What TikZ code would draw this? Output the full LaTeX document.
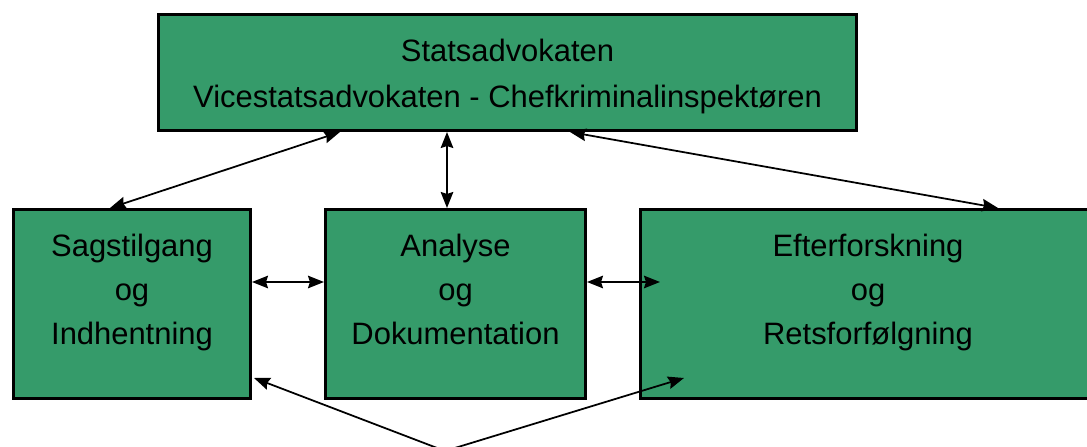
\documentclass[tikz,border=0pt]{standalone}
\usepackage{fontspec}
\setmainfont{Liberation Sans}
\usepackage{tikz}
\usetikzlibrary{arrows.meta}

\definecolor{boxgreen}{RGB}{53,155,106}

\begin{document}
\begin{tikzpicture}[>={Stealth[length=0.32cm,width=0.25cm,inset=0.04cm]}]
			\tikzstyle{unit} = [draw, fill=boxgreen, line width=1.7pt, inner sep=0pt]
			\tikzstyle{label} = [align=center, font=\fontsize{17.6}{26.2}\selectfont, inner sep=0pt]
			\tikzstyle{sublabel} = [label, font=\fontsize{17.6}{25}\selectfont]
			\tikzstyle{link} = [line width=1pt]

			\useasboundingbox (0,0) rectangle (21.74,8.92);

			% boxes
			\node[unit, minimum width=13.96cm, minimum height=2.32cm] (top) at (10.15,7.47) {};
			\node[unit, minimum width=4.74cm, minimum height=3.78cm] (sag) at (2.64,2.84) {};
			\node[unit, minimum width=5.20cm, minimum height=3.78cm] (ana) at (9.11,2.84) {};
			\node[unit, minimum width=9.10cm, minimum height=3.78cm] (eft) at (17.36,2.84) {};

			% texts
			\node[label] (toptxt) at ([yshift=-0.05cm]top.center) {Statsadvokaten\strut\\Vicestatsadvokaten - Chefkriminalinspektøren\strut};
			\node[sublabel] (sagtxt) at ([yshift=0.25cm]sag.center) {Sagstilgang\strut\\og\strut\\Indhentning\strut};
			\node[sublabel] (anatxt) at ([yshift=0.25cm]ana.center) {Analyse\strut\\og\strut\\Dokumentation\strut};
			\node[sublabel] (efttxt) at ([yshift=0.25cm]eft.center) {Efterforskning\strut\\og\strut\\Retsforfølgning\strut};

			\coordinate (apex) at (8.9,-0.1);

			% connectors
			\draw[link, <->] ([xshift=-3.35cm]top.south) -- ([xshift=-0.44cm]sag.north);
			\draw[link, <->] ([xshift=-1.21cm]top.south) -- ([xshift=-0.17cm]ana.north);
			\draw[link, <->] ([xshift=1.25cm]top.south) -- ([xshift=2.6cm]eft.north);
			\draw[link, <->] ([yshift=0.44cm]sag.east) -- ([yshift=0.44cm]ana.west);
			\draw[link, <->] ([yshift=0.44cm]ana.east) -- ([xshift=0.42cm,yshift=0.44cm]eft.west);
			\draw[link, ->] (apex) -- ([xshift=0.04cm,yshift=0.44cm]sag.south east);
			\draw[link, ->] (apex) -- ([xshift=0.9cm,yshift=0.44cm]eft.south west);

\end{tikzpicture}
\end{document}
